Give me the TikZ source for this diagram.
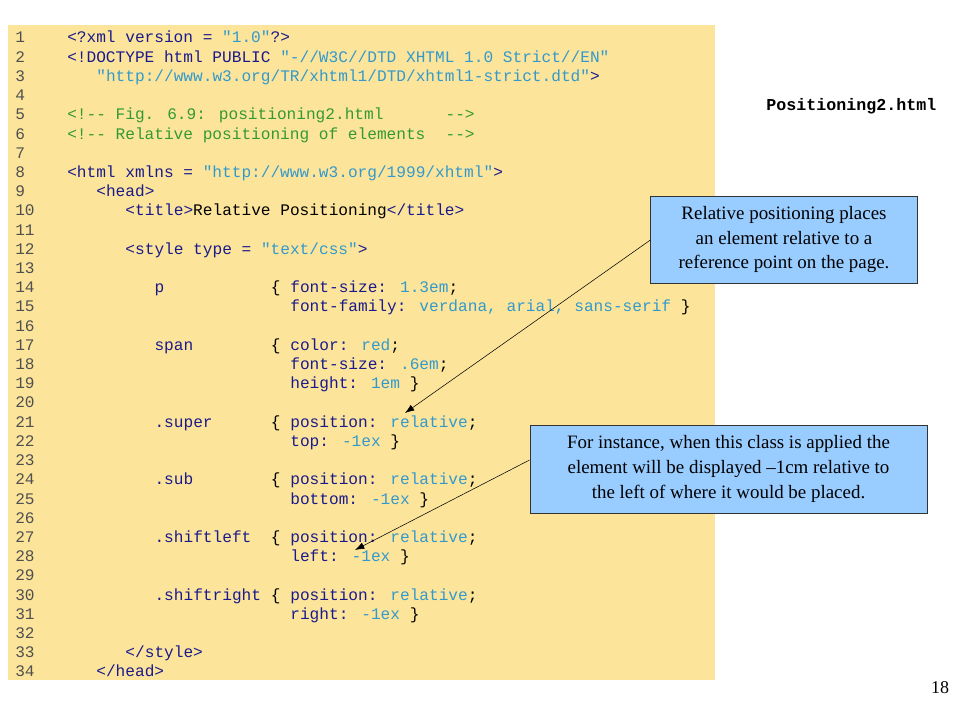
\documentclass[tikz,border=0pt]{standalone}
\usepackage{fontspec}
\setmainfont{Liberation Serif}
\newfontfamily\codef{Liberation Mono}
\definecolor{bg}{HTML}{FCE59A}
\definecolor{tagc}{HTML}{1A1A8C}
\definecolor{valc}{HTML}{3399CC}
\definecolor{cmc}{HTML}{339933}
\definecolor{numc}{HTML}{505050}
\definecolor{callc}{HTML}{99CCFF}
\newcommand{\tg}[1]{\textcolor{tagc}{#1}}
\newcommand{\vl}[1]{\textcolor{valc}{#1}}
\newcommand{\cmt}[1]{\textcolor{cmc}{#1}}
\tikzset{codetxt/.style={anchor=base west,inner sep=0pt,font=\codef\fontsize{12.1}{14}\selectfont},
 callout/.style={draw=black!80,fill=callc,align=center,inner sep=3pt,font=\fontsize{14.2}{18.5}\selectfont},
 arr/.style={-{Latex[length=7pt,width=5pt]},thin}}
\usetikzlibrary{arrows.meta}
\newcommand{\cl}[3]{\node[codetxt] (l#1c#2) at ({67+9.7*#2},{38+19.21*(#1-1)+5}) {#3};}
\newcommand{\lnum}[1]{\node[codetxt,text=numc] (n#1) at (15,{38+19.21*(#1-1)+5}) {#1};}
\begin{document}
\begin{tikzpicture}[x=0.75pt,y=-0.75pt]
\useasboundingbox (0,0) rectangle (960,720);
\fill[bg] (8,25) rectangle (715,680);
\foreach \i in {1,...,34}{\lnum{\i}}
\cl{1}{0}{\tg{<?xml version =} \vl{"1.0"}\tg{?>}}
\cl{2}{0}{\tg{<!DOCTYPE html PUBLIC} \vl{"-//W3C//DTD XHTML 1.0 Strict//EN"}}
\cl{3}{3}{\vl{"http://www.w3.org/TR/xhtml1/DTD/xhtml1-strict.dtd"}\tg{>}}
\cl{5}{0}{\cmt{<!-- Fig. 6.9: positioning2.html}}
\cl{5}{39}{\cmt{-->}}
\cl{6}{0}{\cmt{<!-- Relative positioning of elements}}
\cl{6}{39}{\cmt{-->}}
\cl{8}{0}{\tg{<html xmlns =} \vl{"http://www.w3.org/1999/xhtml"}\tg{>}}
\cl{9}{3}{\tg{<head>}}
\cl{10}{6}{\tg{<title>}Relative Positioning\tg{</title>}}
\cl{12}{6}{\tg{<style type =} \vl{"text/css"}\tg{>}}
\cl{14}{9}{\tg{p}}\cl{14}{21}{\{}\cl{14}{23}{\tg{font-size:} \vl{1.3em};}
\cl{15}{23}{\tg{font-family:} \vl{verdana, arial, sans-serif} \}}
\cl{17}{9}{\tg{span}}\cl{17}{21}{\{}\cl{17}{23}{\tg{color:} \vl{red};}
\cl{18}{23}{\tg{font-size:} \vl{.6em};}
\cl{19}{23}{\tg{height:} \vl{1em} \}}
\cl{21}{9}{\tg{.super}}\cl{21}{21}{\{}\cl{21}{23}{\tg{position:} \vl{relative};}
\cl{22}{23}{\tg{top:} \vl{-1ex} \}}
\cl{24}{9}{\tg{.sub}}\cl{24}{21}{\{}\cl{24}{23}{\tg{position:} \vl{relative};}
\cl{25}{23}{\tg{bottom:} \vl{-1ex} \}}
\cl{27}{9}{\tg{.shiftleft}}\cl{27}{21}{\{}\cl{27}{23}{\tg{position:} \vl{relative};}
\cl{28}{23}{\tg{left:} \vl{-1ex} \}}
\cl{30}{9}{\tg{.shiftright}}\cl{30}{21}{\{}\cl{30}{23}{\tg{position:} \vl{relative};}
\cl{31}{23}{\tg{right:} \vl{-1ex} \}}
\cl{33}{6}{\tg{</style>}}
\cl{34}{3}{\tg{</head>}}
\node[font=\codef\bfseries\fontsize{12.5}{14}\selectfont,anchor=east] (title) at (941,106) {Positioning2.html};
\node[callout,minimum width=200pt,minimum height=65pt] (c1) at (784,239.5) {Relative positioning places\\an element relative to a\\reference point on the page.};
\node[callout,minimum width=298pt,minimum height=66pt] (c2) at (728.5,469) {For instance, when this class is applied the\\element will be displayed \textendash1cm relative to\\the left of where it would be placed.};
\coordinate (t1) at (405,413);
\coordinate (t2) at (355,550);
\draw[arr] (c1.west |- 0,240) -- (t1);
\draw[arr] (c2.west |- 0,460) -- (t2);
\node[font=\fontsize{13.5}{16}\selectfont] (pg) at (940,688) {18};
\end{tikzpicture}
\end{document}
